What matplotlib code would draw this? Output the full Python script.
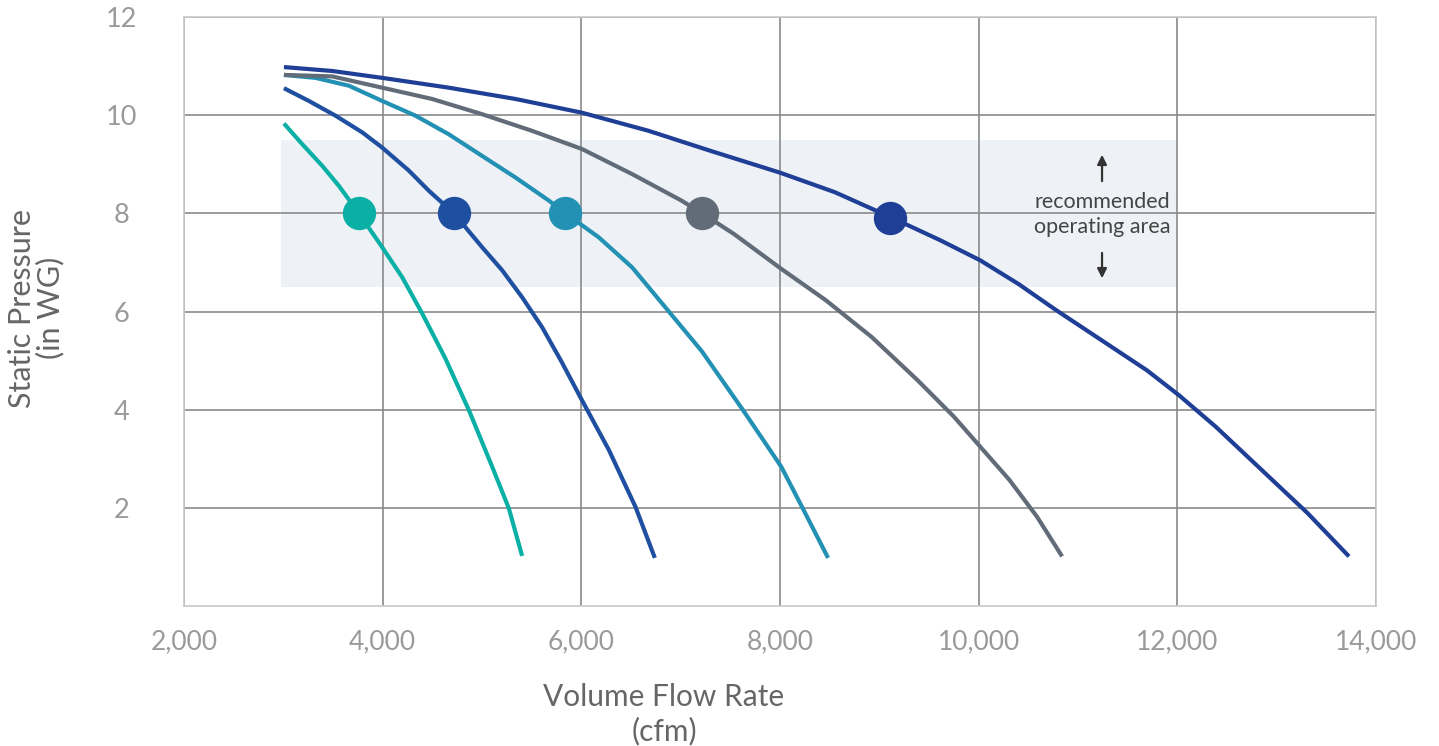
import matplotlib
matplotlib.use("Agg")
import matplotlib.pyplot as plt

# ---- data ----
x1 = [3006, 3190, 3391, 3559, 3760, 3995, 4196, 4398, 4632, 4868, 5102, 5270, 5404]
y1 = [9.83, 9.41, 8.97, 8.56, 8.00, 7.31, 6.70, 5.96, 5.04, 3.99, 2.84, 1.99, 1.02]

x2 = [3006, 3257, 3525, 3794, 3995, 4264, 4465, 4717, 5001, 5203, 5404, 5605, 5800, 6007, 6277, 6545, 6740]
y2 = [10.55, 10.29, 9.99, 9.65, 9.34, 8.87, 8.46, 8.00, 7.31, 6.84, 6.29, 5.68, 4.98, 4.19, 3.18, 2.02, 0.98]

x3 = [3006, 3324, 3660, 3995, 4330, 4666, 5001, 5337, 5673, 5840, 6176, 6511, 6889, 7213, 7628, 8012, 8229, 8484]
y3 = [10.82, 10.76, 10.60, 10.29, 9.99, 9.61, 9.17, 8.73, 8.26, 8.00, 7.51, 6.90, 5.98, 5.19, 3.99, 2.84, 1.99, 0.98]

x4 = [3006, 3492, 3995, 4498, 5001, 5505, 6007, 6511, 7008, 7216, 7536, 8012, 8461, 8923, 9385, 9754, 10018, 10309, 10587, 10840]
y4 = [10.82, 10.79, 10.56, 10.33, 10.02, 9.68, 9.31, 8.80, 8.26, 8.00, 7.58, 6.87, 6.23, 5.48, 4.60, 3.85, 3.24, 2.57, 1.82, 1.01]

x5 = [3006, 3492, 3995, 4666, 5337, 6007, 6679, 7305, 7998, 8553, 9105, 9615, 10018, 10401, 10771, 11233, 11695, 12019, 12388, 12850, 13312, 13728]
y5 = [10.98, 10.90, 10.76, 10.56, 10.33, 10.05, 9.68, 9.27, 8.83, 8.43, 7.93, 7.45, 7.04, 6.56, 6.04, 5.42, 4.80, 4.29, 3.65, 2.77, 1.89, 1.01]

op_x = [3760, 4717, 5840, 7216, 9105]
op_y = [8.0, 8.0, 8.0, 8.0, 7.9]

colors = ["#0aafa5", "#1e4fa0", "#2291b4", "#626c79", "#1f3f97"]

x_ticks = [2000, 4000, 6000, 8000, 10000, 12000, 14000]
x_tick_labels = ["2,000", "4,000", "6,000", "8,000", "10,000", "12,000", "14,000"]
y_ticks = [2, 4, 6, 8, 10, 12]
y_tick_labels = ["2", "4", "6", "8", "10", "12"]

band_x = [2975, 12000]
band_y = [6.5, 9.5]

plt.rcParams['font.family'] = ['Lato', 'DejaVu Sans']

fig = plt.figure(figsize=(14.39, 7.46), dpi=100)
ax = fig.add_axes([184/1439, 1 - 606/746, (1376 - 184)/1439, (606 - 17)/746])

ax.set_xlim(2000, 14000)
ax.set_ylim(0, 12)

ax.fill_between(band_x, band_y[0], band_y[1], color="#eef1f6", zorder=0, linewidth=0)

ax.set_xticks(x_ticks)
ax.set_xticklabels(x_tick_labels)
ax.set_yticks(y_ticks)
ax.set_yticklabels(y_tick_labels)
ax.grid(True, color="#8a8a8a", linewidth=1.2, zorder=1)
ax.set_axisbelow(True)
ax.tick_params(axis='both', length=0)
ax.tick_params(axis='x', pad=17, labelsize=19, labelcolor="#9a9a9a")
ax.tick_params(axis='y', pad=45, labelsize=19.5, labelcolor="#9a9a9a")
for lbl in ax.get_yticklabels():
    lbl.set_horizontalalignment('center')
for s in ax.spines.values():
    s.set_color("#c8c8c8")
    s.set_linewidth(1.2)

series = [(x1, y1), (x2, y2), (x3, y3), (x4, y4), (x5, y5)]
for (xs, ys), c in zip(series, colors):
    ax.plot(xs, ys, color=c, linewidth=3.0, solid_capstyle='butt',
            solid_joinstyle='round', zorder=3)
for px, py, c in zip(op_x, op_y, colors):
    ax.plot([px], [py], 'o', color=c, markersize=24, markeredgewidth=0, zorder=4)

ax.text(11242, 7.97, "recommended\noperating area", ha='center', va='center',
        fontsize=15.5, color="#444444", linespacing=1.3, zorder=5)
ax.annotate("", xy=(11242, 9.25), xytext=(11242, 8.6),
            arrowprops=dict(arrowstyle='-|>', color="#333333", lw=1.6, mutation_scale=14), zorder=5)
ax.annotate("", xy=(11242, 6.62), xytext=(11242, 7.25),
            arrowprops=dict(arrowstyle='-|>', color="#333333", lw=1.6, mutation_scale=14), zorder=5)

fig.text(664/1439, 1 - 697/746, "Volume Flow Rate", ha='center', va='center', fontsize=21.5, color="#666666")
fig.text(664/1439, 1 - 731/746, "(cfm)", ha='center', va='center', fontsize=21.5, color="#666666")
fig.text(22/1439, 1 - 308/746, "Static Pressure", ha='center', va='center', rotation=90, fontsize=22, color="#666666")
fig.text(50/1439, 1 - 308/746, "(in WG)", ha='center', va='center', rotation=90, fontsize=22, color="#666666")

fig.savefig("out.png", dpi=100, facecolor="white")
